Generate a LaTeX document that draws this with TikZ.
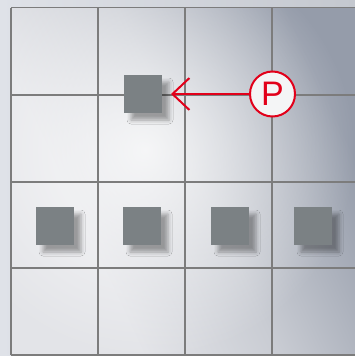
\documentclass[tikz,border=0pt]{standalone}
\usepackage{fontspec}
\setmainfont{Liberation Sans}
\usetikzlibrary{arrows.meta,shadows.blur,fadings}

\definecolor{margincol}{HTML}{DFE2E8}
\definecolor{margindark}{HTML}{C4C8CF}
\definecolor{fieldlight}{HTML}{E3E4E8}
\definecolor{fieldmid}{HTML}{C9CCD3}
\definecolor{fielddark}{HTML}{959CAA}
\definecolor{gridgray}{HTML}{7C7C7C}
\definecolor{boxgray}{HTML}{7B8184}
\definecolor{pred}{HTML}{E2001A}

\pgfdeclarehorizontalshading{fieldshade}{100bp}{color(0bp)=(fieldlight);
    color(34bp)=(fieldlight); color(52bp)=(fieldmid); color(74bp)=(fielddark);
    color(100bp)=(fielddark)}
\tikzfading[name=glow, inner color=transparent!0, outer color=transparent!100]

\begin{document}
\begin{tikzpicture}[x=1pt, y=-1pt,
    gridline/.style={gridgray, line width=1.6pt},
    box/.style={fill=boxgray, minimum size=38pt, inner sep=0pt,
        blur shadow={shadow xshift=7pt, shadow yshift=-7pt,
            shadow blur radius=4pt, shadow opacity=35}},
    pmark/.style={circle, draw=pred, fill=white!90!fielddark, line width=2pt,
        minimum size=45pt, inner sep=0pt, text=pred,
        font=\fontsize{34}{34}\selectfont},
    pline/.style={pred, line width=2pt, -{Straight Barb[length=17pt, width=32pt]}}]
    \useasboundingbox (0,0) rectangle (355,356);

    % Background
    \shade[left color=margincol, right color=margindark] (0,0) rectangle (355,356);
    \begin{scope}
        \clip (11,7.5) rectangle (355,355);
        \shade[shading=fieldshade, shading angle=25] (11,7.5) rectangle (355,355);
        % highlight
        \fill[white, path fading=glow, fill opacity=0.8] (145,150) circle (210);
    \end{scope}

    % Grid
    \foreach \x in {11,98,185,272}
        \draw[gridline] (\x,7.5) -- (\x,355);
    \foreach \y in {7.5,95,182,268,355}
        \draw[gridline] (11,\y) -- (355,\y);

    % Boxes
    \node[box] (a) at (143,94) {};
    \foreach \x [count=\i] in {55,142,230,313}
        \node[box] (b\i) at (\x,226) {};

    % Pointer
    \node[pmark] (p) at (272.5,94) {P};
    \coordinate (tip) at (171,94);
    \draw[pline] (p) -- (tip);
\end{tikzpicture}
\end{document}
